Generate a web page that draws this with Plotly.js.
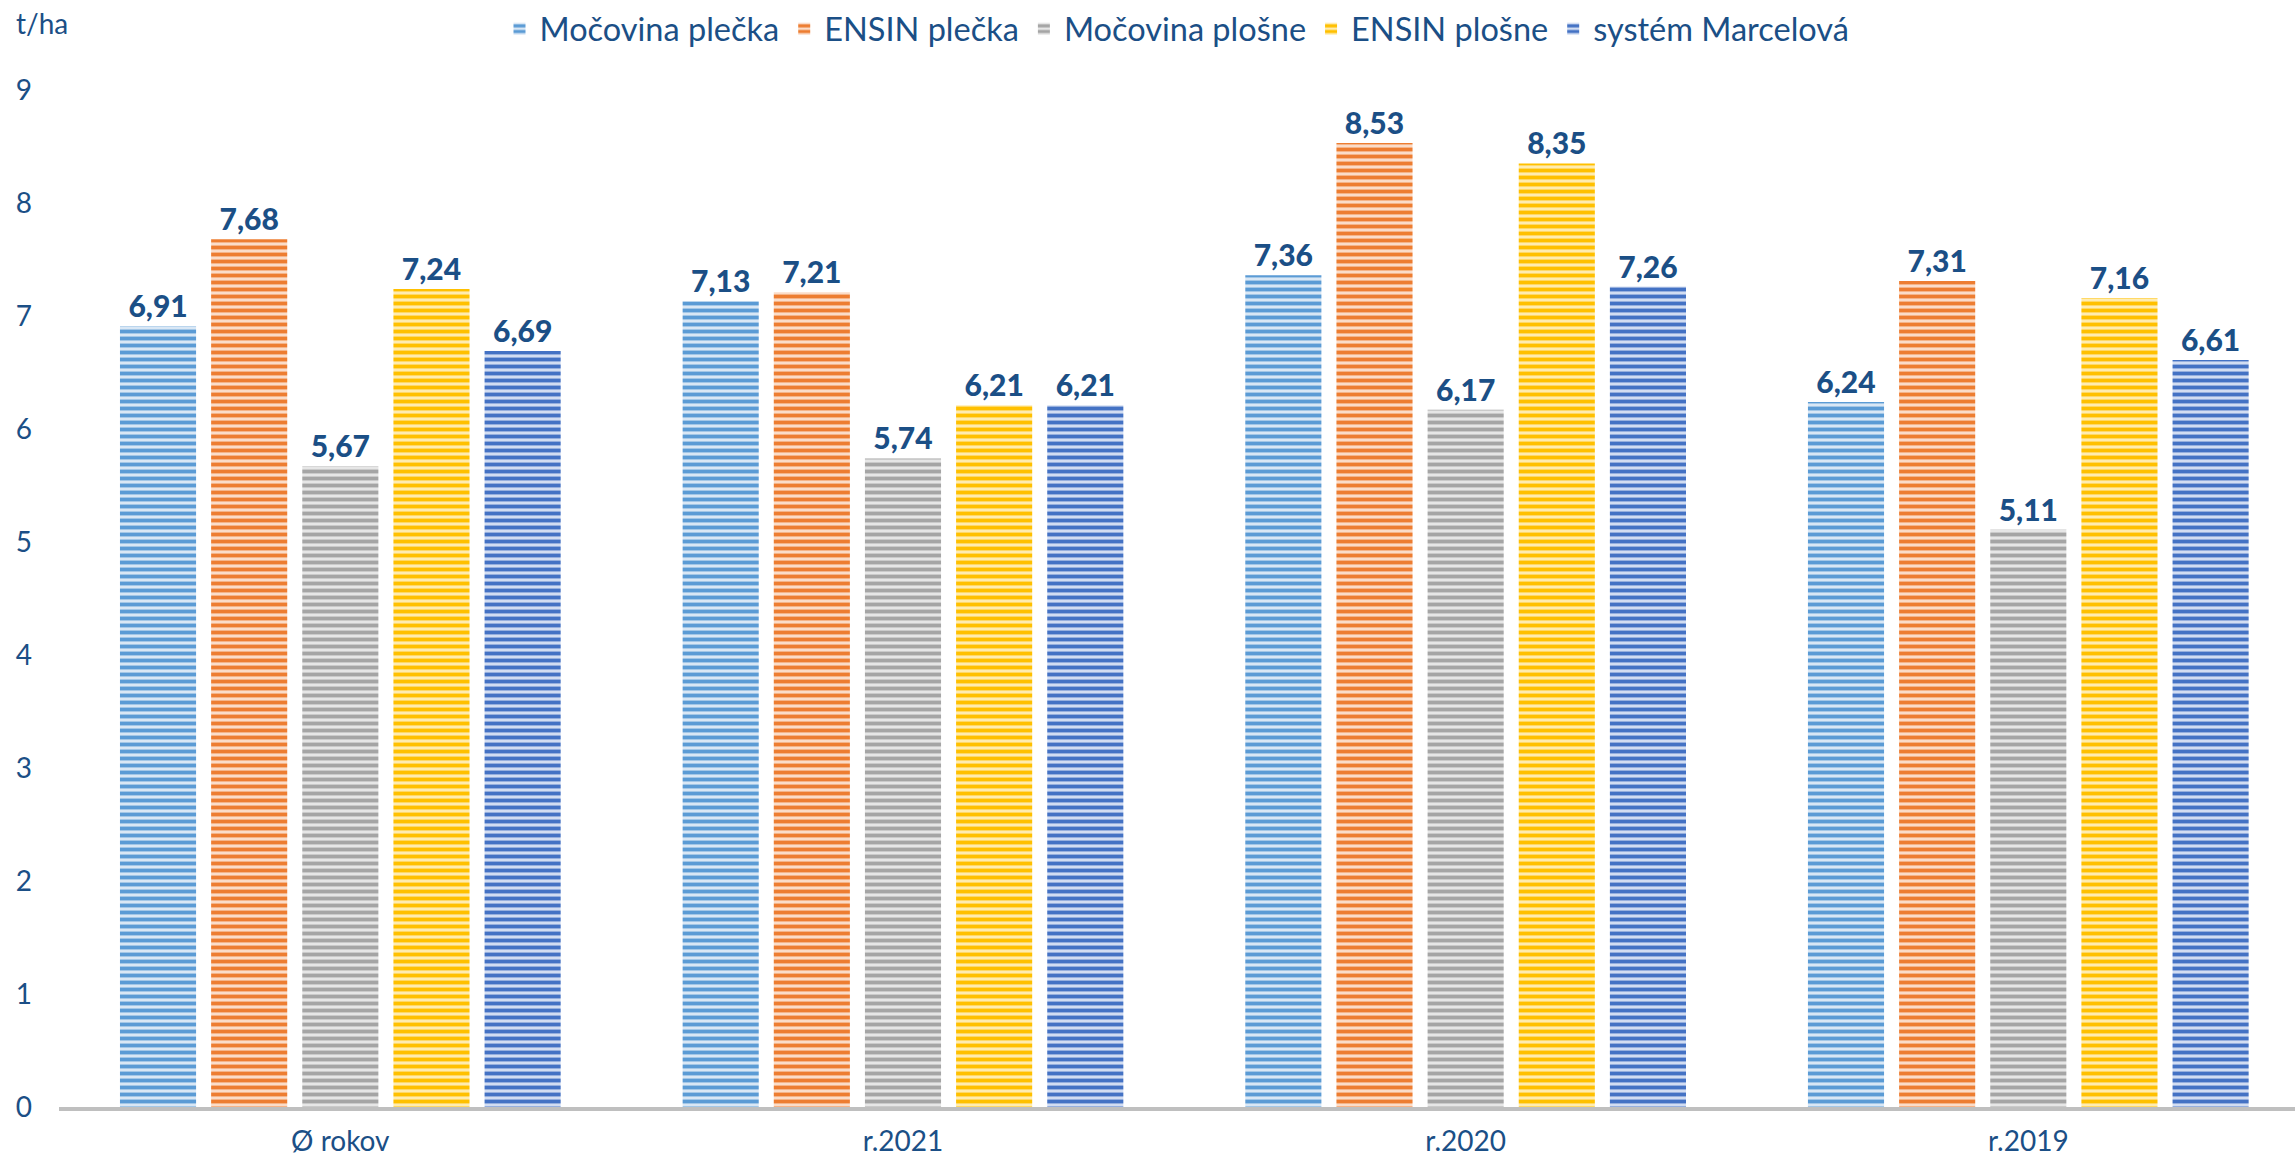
<!DOCTYPE html>
<html>
<head>
<meta charset="utf-8">
<script src="https://cdn.plot.ly/plotly-3.0.1.min.js"></script>
<style>html,body{margin:0;padding:0;background:#fff;}#chart{width:2295px;height:1163px;}</style>
</head>
<body>
<div id="chart"></div>
<script>
const categories = ['Ø rokov', 'r.2021', 'r.2020', 'r.2019'];
const seriesNames = ['Močovina plečka', 'ENSIN plečka', 'Močovina plošne', 'ENSIN plošne', 'systém Marcelová'];
const mocovinaPlecka = [6.91, 7.13, 7.36, 6.24];
const ensinPlecka = [7.68, 7.21, 8.53, 7.31];
const mocovinaPlosne = [5.67, 5.74, 6.17, 5.11];
const ensinPlosne = [7.24, 6.21, 8.35, 7.16];
const systemMarcelova = [6.69, 6.21, 7.26, 6.61];
const yTicks = [0, 1, 2, 3, 4, 5, 6, 7, 8, 9];
const yUnit = 't/ha';

const seriesValues = [mocovinaPlecka, ensinPlecka, mocovinaPlosne, ensinPlosne, systemMarcelova];
const colors = ['#5B9BD5', '#ED7D31', '#A5A5A5', '#FFC000', '#4472C4'];
const lightColors = ['#d9e7f5', '#fbdcc8', '#e6e6e6', '#ffecb0', '#d2ddf2'];
const textColor = '#1B4F86';
const font = 'Lato, "Open Sans", sans-serif';

const traces = seriesValues.map((vals, i) => ({
  type: 'bar',
  name: seriesNames[i],
  x: categories,
  y: vals,
  marker: {
    color: colors[i],
    line: {width: 0},
    pattern: {shape: '-', fgcolor: colors[i], bgcolor: lightColors[i], size: 7, solidity: 0.55, fillmode: 'replace'}
  },
  texttemplate: '%{y:.2f}',
  textposition: 'outside',
  constraintext: 'none',
  cliponaxis: false,
  textfont: {family: font, size: 30, color: textColor, weight: 900},
  hoverinfo: 'x+y+name'
}));

const layout = {
  width: 2295,
  height: 1163,
  margin: {l: 59, r: 0, t: 90, b: 56},
  paper_bgcolor: '#ffffff',
  plot_bgcolor: '#ffffff',
  separators: ', ',
  barmode: 'group',
  bargap: 0.19,
  bargroupgap: 0.165,
  font: {family: font, color: textColor, size: 27},
  showlegend: true,
  legend: {
    orientation: 'h',
    x: 0.5, xanchor: 'center',
    yref: 'container', y: 0.975, yanchor: 'middle',
    font: {family: font, size: 32.5, color: textColor},
    traceorder: 'normal'
  },
  xaxis: {
    type: 'category',
    range: [-0.5, 3.474],
    showline: true, linecolor: '#BFBFBF', linewidth: 4,
    showgrid: false, zeroline: false, ticks: '',
    tickfont: {family: font, size: 28, color: textColor},
    ticklabelstandoff: 6
  },
  yaxis: {
    range: [0, 9],
    tickvals: yTicks,
    ticktext: yTicks.map(String),
    showline: false, showgrid: false, zeroline: false, ticks: '',
    tickfont: {family: font, size: 28, color: textColor},
    ticklabelstandoff: 26
  },
  annotations: [{
    text: yUnit,
    xref: 'paper', yref: 'paper',
    x: 0, y: 1, xanchor: 'left', yanchor: 'middle',
    xshift: -45, yshift: 67,
    showarrow: false,
    font: {family: font, size: 28, color: textColor}
  }]
};

Plotly.newPlot('chart', traces, layout, {displayModeBar: false, responsive: false});
</script>
</body>
</html>
